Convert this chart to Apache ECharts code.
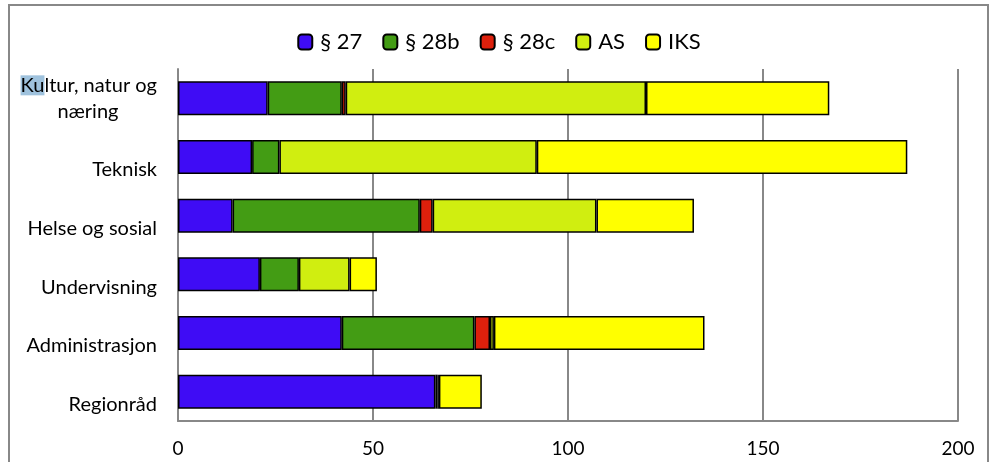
<!DOCTYPE html>
<html>
<head>
<meta charset="utf-8">
<script src="https://cdn.jsdelivr.net/npm/echarts@6/dist/echarts.min.js"></script>
<style>
html,body{margin:0;padding:0;background:#fff;}
#c{width:998px;height:462px;}
</style>
</head>
<body>
<div id="c"></div>
<script>
const categories = ['Kultur, natur og næring', 'Teknisk', 'Helse og sosial', 'Undervisning', 'Administrasjon', 'Regionråd'];
const seriesNames = ['§ 27', '§ 28b', '§ 28c', 'AS', 'IKS'];
const s27  = [23, 19, 14, 21, 42, 66];
const s28b = [19, 7, 48, 10, 34, 0];
const s28c = [1, 0, 3.3, 0, 4, 0.5];
const sAS  = [77, 66, 42, 13, 1, 0.4];
const sIKS = [47, 95, 25, 7, 54, 11];
const xTicks = [0, 50, 100, 150, 200];
const colors = ['#3f0cf5', '#439c14', '#dd200c', '#d0ee10', '#ffff00'];

const values = [s27, s28b, s28c, sAS, sIKS];
const FONT = 'Lato, sans-serif';
const LH = 26;
const chart = echarts.init(document.getElementById('c'));
chart.setOption({
  animation: false,
  backgroundColor: '#fff',
  graphic: [{
    type: 'rect',
    shape: {x: 9, y: 5, width: 979, height: 470},
    style: {fill: 'none', stroke: '#888', lineWidth: 2},
    silent: true
  }],
  legend: {
    top: 26,
    left: 'center',
    itemWidth: 14,
    itemHeight: 15,
    itemGap: 20,
    textStyle: {fontFamily: FONT, fontSize: 22, color: '#000', padding: [0,0,0,3]},
    data: seriesNames
  },
  grid: {left: 178, right: 40, top: 69, bottom: 41, containLabel: false},
  xAxis: {
    type: 'value',
    min: xTicks[0], max: xTicks[xTicks.length - 1], interval: 50,
    axisLine: {show: true, lineStyle: {color: '#888', width: 2}},
    axisTick: {show: false},
    axisLabel: {color: '#000', fontFamily: FONT, fontSize: 19, margin: 18},
    splitLine: {show: true, lineStyle: {color: '#888', width: 2}}
  },
  yAxis: {
    type: 'category',
    inverse: true,
    data: categories,
    axisLine: {show: true, lineStyle: {color: '#888', width: 2}},
    axisTick: {show: false},
    axisLabel: {
      color: '#000', fontFamily: FONT, fontSize: 20, margin: 21, lineHeight: LH,
      formatter: function (v) {
        if (v === 'Kultur, natur og næring') {
          return '{hl|Ku}{n|ltur, natur og}\n{c|næring}';
        }
        return '{n| }\n{n|' + v + '}';
      },
      rich: {
        hl: {backgroundColor: '#9fc2dd', fontFamily: FONT, fontSize: 20, color: '#000', lineHeight: LH},
        n: {fontFamily: FONT, fontSize: 20, color: '#000', lineHeight: LH},
        c: {fontFamily: FONT, fontSize: 20, color: '#000', lineHeight: LH, width: 138, align: 'center'}
      }
    }
  },
  series: seriesNames.map((name, i) => ({
    name: name,
    type: 'bar',
    stack: 'total',
    barWidth: '58%',
    data: values[i].map(v => v === 0 ? '-' : v),
    itemStyle: {color: colors[i], borderColor: '#000', borderWidth: 1.5}
  }))
});
</script>
</body>
</html>
